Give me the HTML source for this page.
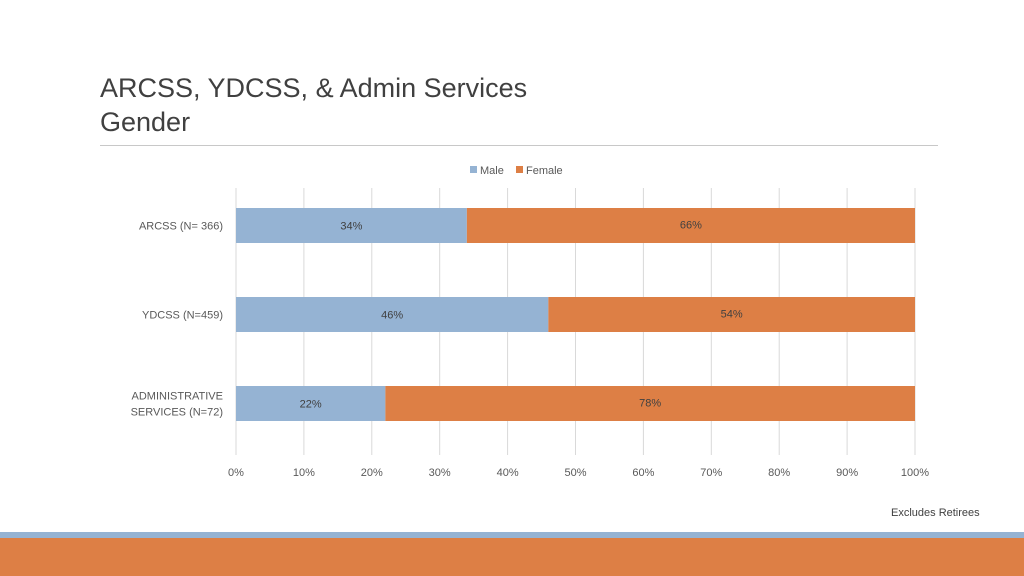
<!DOCTYPE html>
<html><head><meta charset="utf-8"><style>
body{margin:0;width:1024px;height:576px;background:#fff;position:relative;overflow:hidden;font-family:"Liberation Sans",sans-serif;}
.t{position:absolute;left:100px;font-size:27px;color:#404040;line-height:34px;}
</style></head><body>
<div class="t" style="top:71px">ARCSS, YDCSS, &amp; Admin Services<br>Gender</div>
<div style="position:absolute;left:100px;top:145px;width:838px;height:1px;background:#c8c8c8"></div>
<svg width="1024" height="576" style="position:absolute;left:0;top:0" id="c"></svg>
<div style="position:absolute;left:891px;top:507px;font-size:11px;color:#404040">Excludes Retirees</div>
<div style="position:absolute;left:0;top:532px;width:1024px;height:6px;background:#95b3d3"></div>
<div style="position:absolute;left:0;top:538px;width:1024px;height:38px;background:#dd7f45"></div>
<script>
const categories=["ARCSS (N= 366)","YDCSS (N=459)","ADMINISTRATIVE|SERVICES (N=72)"];
const male=[34,46,22];
const female=[66,54,78];
const ticks=[0,10,20,30,40,50,60,70,80,90,100];
const svg=document.getElementById('c');const NS='http://www.w3.org/2000/svg';
const x0=236,x1=915,plotTop=188,plotBot=455;
const xs=v=>x0+(x1-x0)*v/100;
const band=(plotBot-plotTop)/categories.length;
function mk(t,a,p){const e=document.createElementNS(NS,t);for(const k in a)e.setAttribute(k,a[k]);(p||svg).appendChild(e);return e;}
ticks.forEach(t=>{
 const l=mk('line',{x1:xs(t),x2:xs(t),y1:plotTop,y2:plotBot,stroke:'#d9d9d9'});
 
 
 const tx=mk('text',{x:xs(t),y:476,'text-anchor':'middle','font-size':11,fill:'#595959'});
 tx.textContent=t+'%';
 
 
});
const lg=[['Male','#95b3d3',470],['Female','#dd7f45',516]];
lg.forEach(([n,c,x])=>{
 const r=mk('rect',{x:x,y:166,width:7,height:7,fill:c});
 
 
 const t=mk('text',{x:x+10,y:174,'font-size':11,fill:'#595959'});t.textContent=n;
 
 
});
categories.forEach((c,i)=>{
 const cy=plotTop+band*(i+0.5)-7,h=35,y=cy-h/2;
 const m=mk('rect',{x:xs(0),y:y,width:xs(male[i])-xs(0),height:h,fill:'#95b3d3'});
 
 
 const f=mk('rect',{x:xs(male[i]),y:y,width:xs(male[i]+female[i])-xs(male[i]),height:h,fill:'#dd7f45'});
 
 
 const a=mk('text',{x:(xs(0)+xs(male[i]))/2,y:cy+4,'text-anchor':'middle','font-size':11,fill:'#404040'});a.textContent=male[i]+'%';
 
 
 const b=mk('text',{x:(xs(male[i])+xs(male[i]+female[i]))/2,y:cy+3,'text-anchor':'middle','font-size':11,fill:'#404040'});b.textContent=female[i]+'%';
 
 
 const parts=c.split('|');
 parts.forEach((p,j)=>{
  const t=mk('text',{x:223,y:cy+4+(j-(parts.length-1)/2)*16,'text-anchor':'end','font-size':11,fill:'#595959'});t.textContent=p;
  
  
 });
});
</script>
</body></html>
